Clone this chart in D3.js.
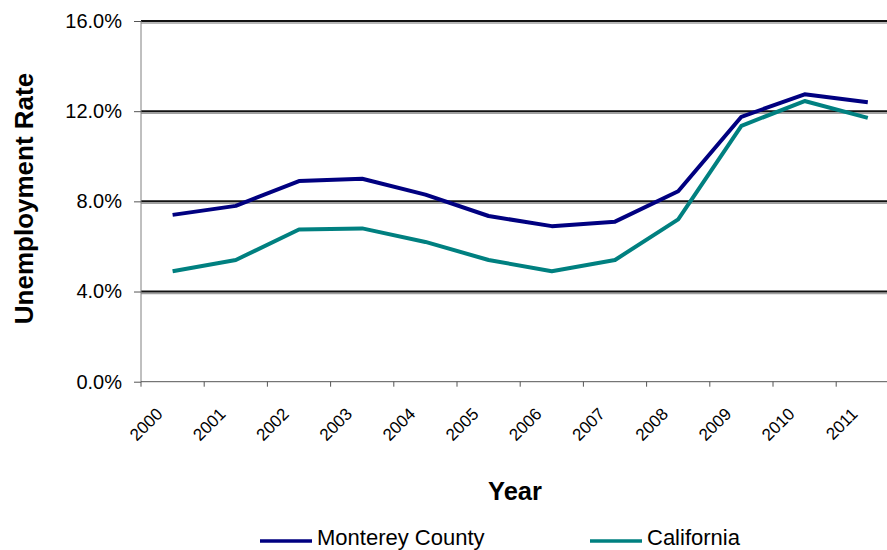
<!DOCTYPE html>
<html>
<head>
<meta charset="utf-8">
<script src="https://cdn.jsdelivr.net/npm/d3@7/dist/d3.min.js"></script>
<style>
  html, body { margin: 0; padding: 0; background: #fff; }
  svg { display: block; font-family: "Liberation Sans", Arial, sans-serif; }
</style>
</head>
<body>
<svg id="chart" width="887" height="550"></svg>
<script>
const years = ["2000","2001","2002","2003","2004","2005","2006","2007","2008","2009","2010","2011"];
const monterey = [7.4, 7.8, 8.9, 9.0, 8.3, 7.35, 6.9, 7.1, 8.45, 11.75, 12.75, 12.4];
const california = [4.9, 5.4, 6.75, 6.8, 6.2, 5.4, 4.9, 5.4, 7.2, 11.35, 12.45, 11.7];
const yTicks = [0, 4, 8, 12, 16];
const seriesNames = ["Monterey County", "California"];
const seriesColors = ["#000080", "#008080"];

const svg = d3.select("#chart");
const plotLeft = 141, bandW = 63.2, plotTop = 21, plotBottom = 381.7;

const x = d3.scaleBand().domain(years).range([plotLeft, plotLeft + bandW * years.length]).padding(0);
const y = d3.scaleLinear().domain([0, 16]).range([plotBottom, plotTop]);

// gridlines
const grid = svg.append("g");
yTicks.filter(v => v > 0).forEach(v => {
  grid.append("line").attr("x1", plotLeft).attr("x2", 887).attr("y1", y(v) + 2).attr("y2", y(v) + 2)
    .attr("stroke", "#a0a0a0").attr("stroke-width", 1.5);
  grid.append("line").attr("x1", plotLeft).attr("x2", 887).attr("y1", y(v)).attr("y2", y(v))
    .attr("stroke", "#111").attr("stroke-width", 2);
});

// y axis
const yAxis = svg.append("g").attr("transform", `translate(${plotLeft},0)`)
  .call(d3.axisLeft(y).tickValues(yTicks).tickSize(7).tickPadding(12).tickFormat(d => d.toFixed(1) + "%"));
yAxis.select(".domain").attr("stroke", "#808080").attr("d", `M0,${plotTop}V${plotBottom}`);
yAxis.selectAll(".tick line").attr("stroke", "#555");
yAxis.selectAll(".tick text").attr("font-size", "20px").attr("fill", "#000")
  .attr("font-family", "Liberation Sans, Arial, sans-serif");

// x axis
const xAxis = svg.append("g").attr("transform", `translate(0,${plotBottom})`)
  .call(d3.axisBottom(x).tickSize(0));
xAxis.select(".domain").attr("stroke", "#555").attr("d", `M${plotLeft},0H887`);
xAxis.selectAll(".tick text")
  .attr("x", 0).attr("y", 0).attr("dy", 0)
  .attr("text-anchor", "end")
  .attr("transform", "translate(-9,33.3) rotate(-45)")
  .attr("font-size", "17px").attr("fill", "#000")
  .attr("font-family", "Liberation Sans, Arial, sans-serif");
// category boundary ticks
xAxis.selectAll(".bt").data(years).enter().append("line").attr("class", "bt")
  .attr("x1", d => x(d)).attr("x2", d => x(d)).attr("y1", 0).attr("y2", 5)
  .attr("stroke", "#555").attr("stroke-width", 1);

// lines
const line = d3.line().x((d, i) => x(years[i]) + x.bandwidth() / 2).y(d => y(d));
[monterey, california].forEach((s, k) => {
  svg.append("path").datum(s).attr("d", line).attr("fill", "none")
    .attr("stroke", seriesColors[k]).attr("stroke-width", 4)
    .attr("stroke-linejoin", "round").attr("stroke-linecap", "butt");
});

// axis titles
svg.append("text").attr("transform", "translate(33,198.5) rotate(-90)")
  .attr("text-anchor", "middle").attr("font-size", "26px").attr("font-weight", "bold")
  .text("Unemployment Rate");
svg.append("text").attr("x", 515).attr("y", 500)
  .attr("text-anchor", "middle").attr("font-size", "25.5px").attr("font-weight", "bold")
  .text("Year");

// legend
const legendX = [260, 590];
seriesNames.forEach((n, k) => {
  const g = svg.append("g").attr("transform", `translate(${legendX[k]},541)`);
  g.append("line").attr("x1", 0).attr("x2", 52).attr("y1", 0).attr("y2", 0)
    .attr("stroke", seriesColors[k]).attr("stroke-width", 3.5);
  g.append("text").attr("x", 57).attr("y", 4).attr("font-size", "22px").attr("fill", "#000")
    .attr("font-family", "Liberation Sans, Arial, sans-serif").text(n);
});
</script>
</body>
</html>
